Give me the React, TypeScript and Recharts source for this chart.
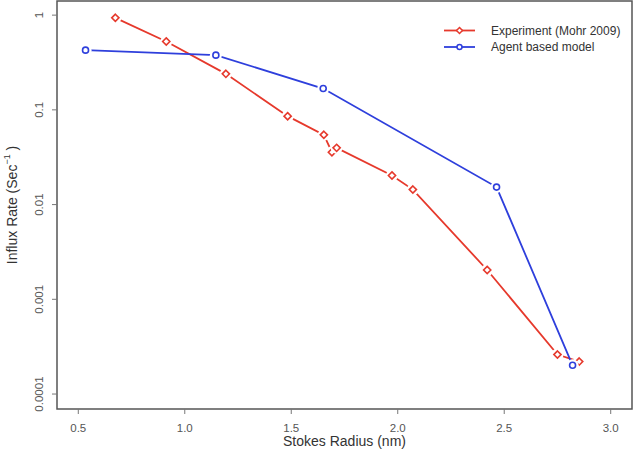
import React from "react";
import { LineChart, Line, XAxis, YAxis, ReferenceArea } from "recharts";

const expRadius = [0.674, 0.913, 1.193, 1.483, 1.653, 1.691, 1.713, 1.973, 2.071, 2.42, 2.75, 2.852];
const expRate = [0.937, 0.527, 0.24, 0.0858, 0.0545, 0.0357, 0.0397, 0.0203, 0.0144, 0.00204, 0.000261, 0.00022];
const modelRadius = [0.534, 1.146, 1.65, 2.464, 2.821];
const modelRate = [0.427, 0.378, 0.168, 0.0153, 0.000201];
const xTicks = [0.5, 1.0, 1.5, 2.0, 2.5, 3.0];
const yTicks = [0.0001, 0.001, 0.01, 0.1, 1];
const yTickLabels = ["0.0001", "0.001", "0.01", "0.1", "1"];
const seriesNames = ["Experiment (Mohr 2009)", "Agent based model"];

const expData = expRadius.map((x, i) => ({ x, y: expRate[i] }));
const modelData = modelRadius.map((x, i) => ({ x, y: modelRate[i] }));

const RED = "#e6392c";
const BLUE = "#2e3fdc";
const FONT = "'Liberation Sans', Arial, Helvetica, sans-serif";
const X_DOMAIN = [0.4, 3.1];
const Y_DOMAIN = [6.95e-5, 1.41];

const Diamond = (props: any) => {
  const { cx, cy, index } = props;
  if (cx == null || cy == null) return null;
  const r = 3.6;
  return (
    <g key={"d" + index}>
      <circle cx={cx} cy={cy} r={6} fill="#fff" />
      <polygon
        points={`${cx},${cy - r} ${cx + r},${cy} ${cx},${cy + r} ${cx - r},${cy}`}
        fill="#fff"
        stroke={RED}
        strokeWidth={1.6}
      />
    </g>
  );
};

const Ring = (props: any) => {
  const { cx, cy, index } = props;
  if (cx == null || cy == null) return null;
  return (
    <g key={"c" + index}>
      <circle cx={cx} cy={cy} r={6} fill="#fff" />
      <circle cx={cx} cy={cy} r={3} fill="#fff" stroke={BLUE} strokeWidth={1.6} />
    </g>
  );
};

const XTick = (props: any) => {
  const { x, payload } = props;
  return (
    <text x={x} y={428} textAnchor="middle" dominantBaseline="central" fontSize={11.5} fill="#555" fontFamily={FONT}>
      {Number(payload.value).toFixed(1)}
    </text>
  );
};

const YTick = (props: any) => {
  const { y, payload } = props;
  const idx = yTicks.indexOf(payload.value);
  const label = idx >= 0 ? yTickLabels[idx] : String(payload.value);
  return (
    <text
      x={39}
      y={y}
      transform={`rotate(-90, 39, ${y})`}
      textAnchor="middle"
      dominantBaseline="central"
      fontSize={11.5}
      fill="#555"
      fontFamily={FONT}
    >
      {label}
    </text>
  );
};

const LegendBox = () => (
  <svg width={190} height={40} style={{ position: "absolute", left: 444, top: 22, display: "block" }}>
    <line x1={0} y1={8.5} x2={31} y2={8.5} stroke={RED} strokeWidth={1.8} />
    <polygon points="15.5,5.5 18.5,8.5 15.5,11.5 12.5,8.5" fill="#fff" stroke={RED} strokeWidth={1.5} />
    <text x={47} y={8.5} dominantBaseline="central" fontSize={12} fill="#333" fontFamily={FONT}>
      {seriesNames[0]}
    </text>
    <line x1={0} y1={25} x2={31} y2={25} stroke={BLUE} strokeWidth={1.8} />
    <circle cx={15.5} cy={25} r={2.5} fill="#fff" stroke={BLUE} strokeWidth={1.5} />
    <text x={47} y={25} dominantBaseline="central" fontSize={12} fill="#333" fontFamily={FONT}>
      {seriesNames[1]}
    </text>
  </svg>
);

export default function App() {
  return (
    <div style={{ position: "absolute", left: 0, top: 0, width: 633, height: 458, background: "#fff" }}>
      <LineChart width={633} height={458} margin={{ top: 1, right: 1, bottom: 0, left: 0 }}>
        <XAxis
          dataKey="x"
          type="number"
          domain={X_DOMAIN}
          ticks={xTicks}
          allowDataOverflow
          axisLine={false}
          tickLine={{ stroke: "#777" }}
          tickSize={5}
          tick={<XTick />}
          height={49}
          label={{
            content: (p: any) => {
              const vb = p.viewBox || { x: 57, width: 575 };
              return (
                <text
                  x={vb.x + vb.width / 2}
                  y={441}
                  textAnchor="middle"
                  dominantBaseline="central"
                  fontSize={14}
                  fill="#333"
                  fontFamily={FONT}
                >
                  Stokes Radius (nm)
                </text>
              );
            },
          }}
        />
        <YAxis
          dataKey="y"
          type="number"
          scale="log"
          domain={Y_DOMAIN}
          ticks={yTicks}
          allowDataOverflow
          axisLine={false}
          tickLine={{ stroke: "#777" }}
          tickSize={5}
          tick={<YTick />}
          width={57}
          label={{
            content: () => (
              <text
                x={12}
                y={205}
                transform="rotate(-90, 12, 205)"
                textAnchor="middle"
                dominantBaseline="central"
                fontSize={14}
                fill="#333"
                fontFamily={FONT}
              >
                Influx Rate (Sec
                <tspan fontSize={9} dy={-5}>−1</tspan>
                <tspan dy={5}> )</tspan>
              </text>
            ),
          }}
        />
        <Line
          data={expData}
          dataKey="y"
          name={seriesNames[0]}
          stroke={RED}
          strokeWidth={1.8}
          dot={<Diamond />}
          activeDot={false}
          isAnimationActive={false}
        />
        <Line
          data={modelData}
          dataKey="y"
          name={seriesNames[1]}
          stroke={BLUE}
          strokeWidth={1.8}
          dot={<Ring />}
          activeDot={false}
          isAnimationActive={false}
        />
        <ReferenceArea
          x1={X_DOMAIN[0]}
          x2={X_DOMAIN[1]}
          y1={Y_DOMAIN[0]}
          y2={Y_DOMAIN[1]}
          fill="none"
          stroke="#555"
          strokeWidth={1.5}
          ifOverflow="visible"
        />
      </LineChart>
      <LegendBox />
    </div>
  );
}
